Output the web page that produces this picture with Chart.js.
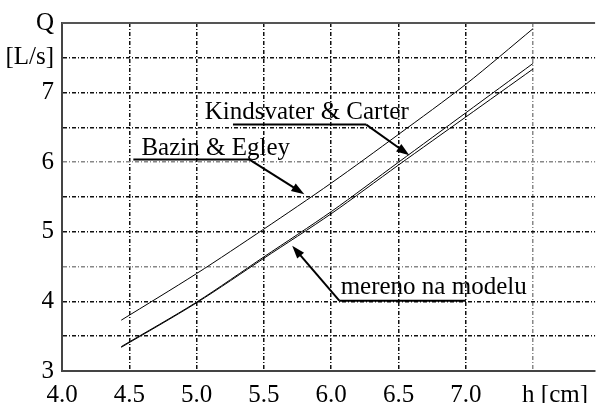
<!DOCTYPE html>
<html>
<head>
<meta charset="utf-8">
<script src="https://cdn.jsdelivr.net/npm/chart.js@4/dist/chart.umd.min.js"></script>
<style>
  html, body { margin: 0; padding: 0; background: #fff; overflow: hidden; }
  #wrap { position: relative; width: 597px; height: 403px; }
</style>
</head>
<body>
<div id="wrap"><canvas id="qChart" width="597" height="403"></canvas></div>
<script>
// values: h [cm] -> Q [L/s]
const hValues = [4.44, 5.0, 5.5, 6.0, 6.5, 7.0, 7.5];
const qBazin = [3.73, 4.40, 5.04, 5.70, 6.40, 7.12, 7.92];
const qKindsvater = [3.35, 3.99, 4.64, 5.29, 6.00, 6.71, 7.42];
const qMeasured = [3.34, 3.98, 4.62, 5.26, 5.96, 6.65, 7.34];

const xTickLabels = { 4: '4.0', 4.5: '4.5', 5: '5.0', 5.5: '5.5', 6: '6.0', 6.5: '6.5', 7: '7.0', 7.5: '       h [cm]' };
const yTickLabels = { 3: '3', 4: '4', 5: '5', 6: '6', 7: '7', 7.5: '[L/s]', 8: 'Q' };

const FONT = '"Liberation Serif", "Times New Roman", serif';

// callouts (in data units): text, underline, arrow tip
const callouts = [
    { text: 'Kindsvater & Carter', tx: 5.06, ty: 6.62, ux1: 5.27, ux2: 6.26, uy: 6.54, tipX: 6.58, tipY: 6.10 },
    { text: 'Bazin & Egley', tx: 4.59, ty: 6.11, ux1: 4.53, ux2: 5.39, uy: 6.04, tipX: 5.80, tipY: 5.54 },
    { text: 'mereno na modelu', tx: 6.07, ty: 4.11, ux1: 6.06, ux2: 7.0, uy: 4.01, tipX: 5.71, tipY: 4.80, fromStart: true }
];

function toPoints(qs) {
    return hValues.map((h, i) => ({ x: h, y: qs[i] }));
}

function drawArrow(ctx, x1, y1, x2, y2) {
    const ang = Math.atan2(y2 - y1, x2 - x1);
    const len = 13, half = 4.5;
    ctx.beginPath();
    ctx.moveTo(x1, y1);
    ctx.lineTo(x2 - Math.cos(ang) * len * 0.8, y2 - Math.sin(ang) * len * 0.8);
    ctx.stroke();
    ctx.beginPath();
    ctx.moveTo(x2, y2);
    ctx.lineTo(x2 - Math.cos(ang) * len - Math.sin(ang) * half, y2 - Math.sin(ang) * len + Math.cos(ang) * half);
    ctx.lineTo(x2 - Math.cos(ang) * len + Math.sin(ang) * half, y2 - Math.sin(ang) * len - Math.cos(ang) * half);
    ctx.closePath();
    ctx.fill();
}

const framePlugin = {
    id: 'frame',
    afterDraw(chart) {
        const { ctx, chartArea, scales } = chart;
        const x = scales.x, y = scales.y;
        ctx.save();
        // top frame line
        ctx.strokeStyle = '#555';
        ctx.lineWidth = 2;
        ctx.beginPath();
        ctx.moveTo(chartArea.left, chartArea.top);
        ctx.lineTo(chartArea.right, chartArea.top);
        ctx.stroke();

        // callouts
        ctx.fillStyle = '#000';
        ctx.strokeStyle = '#000';
        ctx.font = '25px ' + FONT;
        ctx.textBaseline = 'alphabetic';
        callouts.forEach(c => {
            ctx.fillText(c.text, x.getPixelForValue(c.tx), y.getPixelForValue(c.ty));
            const uy = y.getPixelForValue(c.uy);
            const ux1 = x.getPixelForValue(c.ux1), ux2 = x.getPixelForValue(c.ux2);
            ctx.lineWidth = 2;
            ctx.beginPath();
            ctx.moveTo(ux1, uy);
            ctx.lineTo(ux2, uy);
            ctx.stroke();
            const sx = c.fromStart ? ux1 : ux2;
            drawArrow(ctx, sx, uy, x.getPixelForValue(c.tipX), y.getPixelForValue(c.tipY));
        });
        ctx.restore();
    }
};

function lineSet(label, qs) {
    return {
        label: label,
        data: toPoints(qs),
        borderColor: '#000',
        borderWidth: 1,
        pointRadius: 0,
        tension: 0.3,
        fill: false
    };
}

new Chart(document.getElementById('qChart'), {
    type: 'line',
    data: {
        datasets: [
            lineSet('Bazin & Egley', qBazin),
            lineSet('Kindsvater & Carter', qKindsvater),
            lineSet('mereno na modelu', qMeasured)
        ]
    },
    options: {
        responsive: false,
        animation: false,
        devicePixelRatio: 1,
        layout: { padding: { top: 23, right: 0, left: 0, bottom: 0 } },
        plugins: { legend: { display: false }, tooltip: { enabled: false } },
        scales: {
            x: {
                type: 'linear',
                min: 4,
                max: 7.96,
                afterFit: s => { s.height = 32; },
                border: { color: '#444', width: 2, dash: [4, 2, 1, 2] },
                grid: {
                    drawTicks: false,
                    lineWidth: 1.5,
                    color: ctx => {
                        const v = ctx.tick && ctx.tick.value;
                        if (v === 4) return 'rgba(0,0,0,0)';
                        return v === 7.5 ? '#888' : '#111';
                    }
                },
                ticks: {
                    stepSize: 0.5,
                    includeBounds: false,
                    autoSkip: false,
                    maxRotation: 0,
                    padding: 9,
                    color: '#000',
                    font: { family: FONT, size: 25 },
                    callback: v => xTickLabels[v] || ''
                }
            },
            y: {
                min: 3,
                max: 8,
                afterFit: s => { s.width = 62; },
                border: { color: '#444', width: 2, dash: [4, 2, 1, 2] },
                grid: {
                    drawTicks: false,
                    lineWidth: 1.5,
                    color: ctx => {
                        const v = ctx.tick && ctx.tick.value;
                        if (v === 3 || v === 8) return 'rgba(0,0,0,0)';
                        return (v === 4.5 || v === 6) ? '#888' : '#111';
                    }
                },
                ticks: {
                    stepSize: 0.5,
                    autoSkip: false,
                    padding: 8,
                    color: '#000',
                    font: { family: FONT, size: 25 },
                    callback: v => yTickLabels[v] || ''
                }
            }
        }
    },
    plugins: [framePlugin]
});
</script>
</body>
</html>
